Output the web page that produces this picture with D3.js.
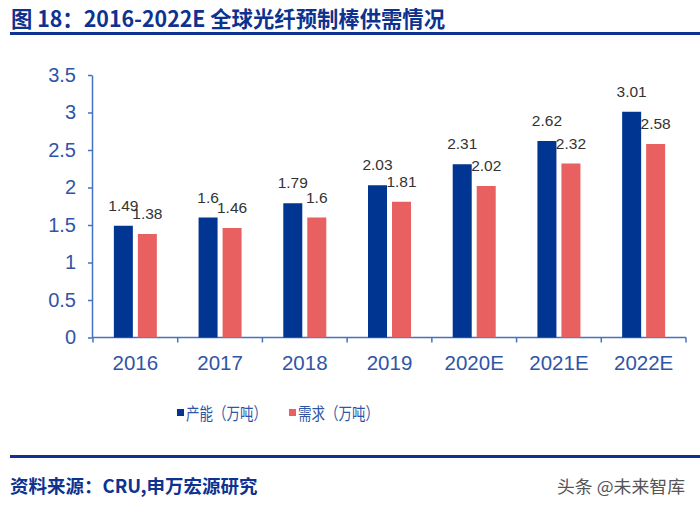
<!DOCTYPE html>
<html>
<head>
<meta charset="utf-8">
<script src="https://cdn.jsdelivr.net/npm/d3@7"></script>
<style>
  body { margin: 0; background: #fff; }
  svg { display: block; font-family: Arial, "Liberation Sans", "Noto Sans CJK SC", sans-serif; }
</style>
</head>
<body>
<div id="chart"></div>
<script>
// data
const years = ["2016", "2017", "2018", "2019", "2020E", "2021E", "2022E"];
const capacity = [1.49, 1.6, 1.79, 2.03, 2.31, 2.62, 3.01];
const demand = [1.38, 1.46, 1.6, 1.81, 2.02, 2.32, 2.58];
const seriesNames = ["产能（万吨）", "需求（万吨）"];
const yTicks = [0, 0.5, 1, 1.5, 2, 2.5, 3, 3.5];

const width = 700, height = 507;
const navy = "#003591", pink = "#e86060", axisBlue = "#4472c4", textBlue = "#2f55a8";

const svg = d3.select("#chart").append("svg")
    .attr("width", width)
    .attr("height", height);

// title + rule
svg.append("text")
    .attr("x", 11).attr("y", 27)
    .attr("fill", "#0d3290")
    .attr("font-size", 22).attr("font-weight", "bold")
    .attr("font-family", "'Noto Sans CJK SC', sans-serif")
    .attr("textLength", 434).attr("lengthAdjust", "spacingAndGlyphs")
    .text("图 18：2016-2022E 全球光纤预制棒供需情况");
svg.append("rect").attr("x", 10).attr("y", 32).attr("width", 690).attr("height", 3).attr("fill", "#0d3290");

const x0 = d3.scaleBand().domain(years).range([93, 686]);
const y = d3.scaleLinear().domain([0, 3.5]).range([337.5, 75]);
const barW = 19, off = 12;

// axes
const yAxis = svg.append("g")
    .attr("transform", "translate(92,0)")
    .call(d3.axisLeft(y).tickValues(yTicks).tickFormat(d => d).tickSize(4).tickSizeOuter(0));
yAxis.select(".domain").attr("stroke", axisBlue).attr("stroke-width", 1.5);
yAxis.selectAll(".tick line").attr("stroke", axisBlue).attr("stroke-width", 1.5);
yAxis.selectAll(".tick text").attr("fill", textBlue).attr("font-size", 20)
    .attr("font-family", "Arial, 'Liberation Sans', sans-serif").attr("x", -16);

const xAxisG = svg.append("g").attr("transform", `translate(0,${y(0)})`);
xAxisG.append("line").attr("x1", 92).attr("x2", 686).attr("stroke", axisBlue).attr("stroke-width", 1.5);
xAxisG.selectAll(".tk")
    .data(years.map(d => x0(d)).concat([x0.range()[1]]))
    .join("line")
    .attr("x1", d => d).attr("x2", d => d)
    .attr("y1", 0).attr("y2", 5)
    .attr("stroke", axisBlue).attr("stroke-width", 1.5);
xAxisG.selectAll(".lbl")
    .data(years)
    .join("text")
    .attr("x", d => x0(d) + x0.bandwidth() / 2)
    .attr("y", 32.5)
    .attr("text-anchor", "middle")
    .attr("fill", textBlue).attr("font-size", 20.5)
    .text(d => d);

// bars
const groups = [
    { values: capacity, color: navy, dx: -off },
    { values: demand, color: pink, dx: off }
];
groups.forEach(g => {
    svg.append("g").selectAll("rect")
        .data(years)
        .join("rect")
        .attr("x", (d, i) => x0(d) + x0.bandwidth() / 2 + g.dx - barW / 2)
        .attr("y", (d, i) => y(g.values[i]))
        .attr("width", barW)
        .attr("height", (d, i) => y(0) - y(g.values[i]))
        .attr("fill", g.color);
    svg.append("g").selectAll("text")
        .data(years)
        .join("text")
        .attr("x", (d, i) => x0(d) + x0.bandwidth() / 2 + g.dx)
        .attr("y", (d, i) => y(g.values[i]) - 15)
        .attr("text-anchor", "middle")
        .attr("fill", "#333").attr("font-size", 15.5)
        .text((d, i) => g.values[i]);
});

// legend
const legend = svg.append("g").attr("font-family", "'Noto Sans CJK SC', sans-serif");
[[177, navy], [289, pink]].forEach(([lx, c], i) => {
    legend.append("rect").attr("x", lx).attr("y", 409).attr("width", 7).attr("height", 7).attr("fill", c);
    legend.append("text").attr("x", lx + 9).attr("y", 420)
        .attr("fill", textBlue).attr("font-size", 17)
        .attr("textLength", 81).attr("lengthAdjust", "spacingAndGlyphs")
        .text(seriesNames[i]);
});

// footer
svg.append("rect").attr("x", 10).attr("y", 455).attr("width", 690).attr("height", 3).attr("fill", "#0d3290");
svg.append("text")
    .attr("x", 10).attr("y", 493)
    .attr("fill", "#0d3290")
    .attr("font-size", 18.5).attr("font-weight", "bold")
    .attr("font-family", "'Noto Sans CJK SC', sans-serif")
    .text("资料来源：CRU,申万宏源研究");
svg.append("text")
    .attr("x", 557).attr("y", 493)
    .attr("fill", "#555")
    .attr("font-size", 17)
    .attr("font-family", "'Noto Sans CJK SC', sans-serif")
    .attr("textLength", 128).attr("lengthAdjust", "spacingAndGlyphs")
    .text("头条 @未来智库");
</script>
</body>
</html>
